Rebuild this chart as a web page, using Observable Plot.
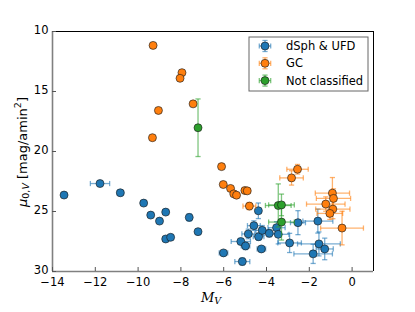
<!DOCTYPE html>
<html>
<head>
<meta charset="utf-8">
<script src="https://cdn.jsdelivr.net/npm/d3@7"></script>
<script src="https://cdn.jsdelivr.net/npm/@observablehq/plot@0.6"></script>
<style>
  html, body { margin: 0; padding: 0; background: white; }
  #chart { width: 415px; height: 312px; }
</style>
</head>
<body>
<div id="chart"></div>
<script>
// ---- data ----
const xTicks = [-14, -12, -10, -8, -6, -4, -2, 0];
const yTicks = [10, 15, 20, 25, 30];

const seriesNames = ["dSph & UFD", "GC", "Not classified"];
const seriesColors = ["#1f77b4", "#ff7f0e", "#2ca02c"];

const dsphX    = [-13.46, -11.78, -10.83, -9.74, -9.41, -8.71, -9.0, -8.71, -8.48, -7.61, -7.2, -6.01, -5.13, -5.2, -4.98, -4.85, -4.59, -4.38, -4.37, -4.2, -4.24, -3.87, -3.53, -3.45, -2.92, -2.53, -1.6, -1.55, -1.28, -1.82];
const dsphY    = [23.63, 22.67, 23.44, 24.30, 25.30, 25.05, 25.8, 27.29, 27.15, 25.49, 26.68, 28.45, 29.17, 27.5, 27.87, 26.87, 26.18, 24.94, 27.1, 26.57, 28.12, 26.82, 26.35, 26.9, 27.62, 25.93, 25.8, 27.7, 28.12, 28.53];
const dsphXerr = [0.1, 0.45, 0.15, 0.1, 0.1, 0.1, 0.1, 0.1, 0.1, 0.1, 0.1, 0.2, 0.35, 0.45, 0.2, 0.3, 0.3, 0.1, 0.25, 0.3, 0.2, 0.3, 0.4, 0.5, 0.55, 0.35, 0.7, 1.0, 0.4, 0.9];
const dsphYerr = [0.1, 0.15, 0.25, 0.1, 0.1, 0.1, 0.1, 0.15, 0.1, 0.3, 0.1, 0.15, 0.3, 0.25, 0.3, 0.4, 0.4, 0.65, 0.3, 0.4, 0.2, 0.3, 0.5, 0.8, 0.8, 1.0, 1.0, 1.0, 0.9, 0.8];

const gcX    = [-9.3, -7.95, -8.04, -7.43, -9.05, -9.33, -6.1, -6.02, -5.68, -5.53, -5.4, -5.01, -4.9, -4.8, -2.83, -2.55, -0.92, -0.87, -1.23, -0.9, -1.04, -0.47];
const gcY    = [11.16, 13.43, 13.9, 16.03, 16.58, 18.85, 21.26, 22.75, 23.08, 23.53, 23.64, 23.25, 23.28, 24.55, 22.2, 21.48, 23.47, 23.91, 24.38, 24.8, 25.16, 26.38];
const gcXerr = [0, 0, 0, 0, 0, 0, 0, 0, 0.05, 0.05, 0.05, 0.15, 0.15, 0.3, 0.55, 0.5, 0.8, 0.8, 0.9, 0.8, 0.6, 1.0];
const gcYerr = [0, 0, 0, 0, 0, 0, 0, 0, 0.05, 0.05, 0.05, 0.2, 0.2, 0.3, 0.6, 0.4, 1.3, 0.8, 0.6, 0.8, 0.5, 1.4];

const ncX    = [-7.2, -3.45, -3.3, -3.3];
const ncY    = [18.02, 24.5, 24.45, 25.88];
const ncXerr = [0.05, 0.6, 0.6, 0.6];
const ncYerr = [2.4, 1.8, 0.9, 1.5];

// ---- build tables ----
function table(xs, ys, xe, ye) {
  return xs.map((x, i) => ({x, y: ys[i], xerr: xe[i], yerr: ye[i]}));
}
const groups = [
  table(dsphX, dsphY, dsphXerr, dsphYerr),
  table(gcX, gcY, gcXerr, gcYerr),
  table(ncX, ncY, ncXerr, ncYerr)
];

const vcap = {draw(ctx, size) { const h = Math.sqrt(size / Math.PI); ctx.moveTo(0, -h); ctx.lineTo(0, h); }};
const hcap = {draw(ctx, size) { const h = Math.sqrt(size / Math.PI); ctx.moveTo(-h, 0); ctx.lineTo(h, 0); }};

const barStyle = {strokeOpacity: 0.6, strokeWidth: 1.3};

function seriesMarks(data, color) {
  const hx = data.filter(d => d.xerr > 0);
  const vy = data.filter(d => d.yerr > 0);
  return [
    Plot.link(hx, {x1: d => d.x - d.xerr, x2: d => d.x + d.xerr, y1: "y", y2: "y", stroke: color, ...barStyle}),
    Plot.link(vy, {x1: "x", x2: "x", y1: d => d.y - d.yerr, y2: d => d.y + d.yerr, stroke: color, ...barStyle}),
    Plot.dot(hx, {x: d => d.x - d.xerr, y: "y", symbol: vcap, r: 2.6, fill: "none", stroke: color, ...barStyle}),
    Plot.dot(hx, {x: d => d.x + d.xerr, y: "y", symbol: vcap, r: 2.6, fill: "none", stroke: color, ...barStyle}),
    Plot.dot(vy, {x: "x", y: d => d.y - d.yerr, symbol: hcap, r: 2.6, fill: "none", stroke: color, ...barStyle}),
    Plot.dot(vy, {x: "x", y: d => d.y + d.yerr, symbol: hcap, r: 2.6, fill: "none", stroke: color, ...barStyle}),
    Plot.dot(data, {x: "x", y: "y", r: 4, fill: color, stroke: "#1a1a1a", strokeWidth: 0.8, strokeOpacity: 0.8})
  ];
}

const chart = Plot.plot({
  width: 415,
  height: 312,
  marginLeft: 52,
  marginRight: 42,
  marginTop: 31,
  marginBottom: 41,
  x: {domain: [-14, 1]},
  y: {domain: [10, 30], reverse: true},
  style: {fontFamily: "DejaVu Sans", fontSize: "11.5px", background: "white", color: "black"},
  marks: [
    ...groups.flatMap((g, i) => seriesMarks(g, seriesColors[i])),
    // spines
    Plot.ruleY([10], {stroke: "black", strokeWidth: 1}),
    Plot.ruleX([1], {stroke: "black", strokeWidth: 1}),
    Plot.ruleX([-14], {stroke: "#808080", strokeWidth: 1.6}),
    Plot.ruleY([30], {stroke: "#808080", strokeWidth: 1.6}),
    // inward ticks
    Plot.tickX(xTicks, {x: d => d, insetTop: 236, stroke: "#555"}),
    Plot.tickY(yTicks, {y: d => d, insetRight: 317, stroke: "#555"}),
    Plot.axisX(xTicks, {tickSize: 0, tickPadding: 6, tickFormat: d3.format("d"), label: null}),
    Plot.axisY(yTicks, {tickSize: 0, tickPadding: 4, dy: -1.5, tickFormat: d3.format("d"), label: null})
  ]
});

document.getElementById("chart").appendChild(chart);
const svg = d3.select(chart);

// y label
const yl = svg.append("text")
  .attr("transform", "translate(22,152) rotate(-90)")
  .attr("text-anchor", "middle")
  .attr("dominant-baseline", "central")
  .attr("font-family", "DejaVu Sans")
  .attr("font-size", 13)
  .attr("fill", "black");
yl.append("tspan").attr("font-style", "italic").text("μ");
yl.append("tspan").attr("font-size", 9.5).attr("dy", 3).text("0,");
yl.append("tspan").attr("font-size", 9.5).attr("font-style", "italic").text("V");
yl.append("tspan").attr("dy", -3).text(" [mag/amin");
yl.append("tspan").attr("font-size", 9.5).attr("dy", -5).text("2");
yl.append("tspan").attr("dy", 5).text("]");

// x label
const xl = svg.append("text")
  .attr("x", 211).attr("y", 297)
  .attr("text-anchor", "middle")
  .attr("dominant-baseline", "central")
  .attr("font-family", "DejaVu Serif")
  .attr("font-size", 13)
  .attr("font-style", "italic")
  .attr("fill", "black");
xl.append("tspan").text("M");
xl.append("tspan").attr("font-size", 9.5).attr("dy", 3).text("V");

// legend
const lg = svg.append("g").attr("transform", "translate(249,37)");
lg.append("rect").attr("x", 0).attr("y", 0).attr("width", 119).attr("height", 54)
  .style("fill", "white").style("stroke", "#666").style("stroke-width", "1px");
seriesNames.forEach((name, i) => {
  const cy = 9 + i * 17.3, cx = 16, c = seriesColors[i];
  const g = lg.append("g");
  const s = (sel) => sel.style("stroke", c).style("stroke-opacity", 0.6).style("stroke-width", "1.3px");
  s(g.append("line").attr("x1", cx - 5.7).attr("x2", cx + 5.7).attr("y1", cy).attr("y2", cy));
  s(g.append("line").attr("x1", cx).attr("x2", cx).attr("y1", cy - 5.5).attr("y2", cy + 5.5));
  s(g.append("line").attr("x1", cx - 5.7).attr("x2", cx - 5.7).attr("y1", cy - 2.6).attr("y2", cy + 2.6));
  s(g.append("line").attr("x1", cx + 5.7).attr("x2", cx + 5.7).attr("y1", cy - 2.6).attr("y2", cy + 2.6));
  s(g.append("line").attr("x1", cx - 2.6).attr("x2", cx + 2.6).attr("y1", cy - 5.5).attr("y2", cy - 5.5));
  s(g.append("line").attr("x1", cx - 2.6).attr("x2", cx + 2.6).attr("y1", cy + 5.5).attr("y2", cy + 5.5));
  g.append("circle").attr("cx", cx).attr("cy", cy).attr("r", 4)
    .style("fill", c).style("stroke", "#1a1a1a").style("stroke-width", "0.8px").style("stroke-opacity", 0.8);
  lg.append("text").attr("x", 37).attr("y", cy).attr("dy", "0.35em")
    .attr("text-anchor", "start")
    .attr("font-family", "DejaVu Sans").attr("font-size", 11.5).attr("fill", "black").text(name);
});
</script>
</body>
</html>
